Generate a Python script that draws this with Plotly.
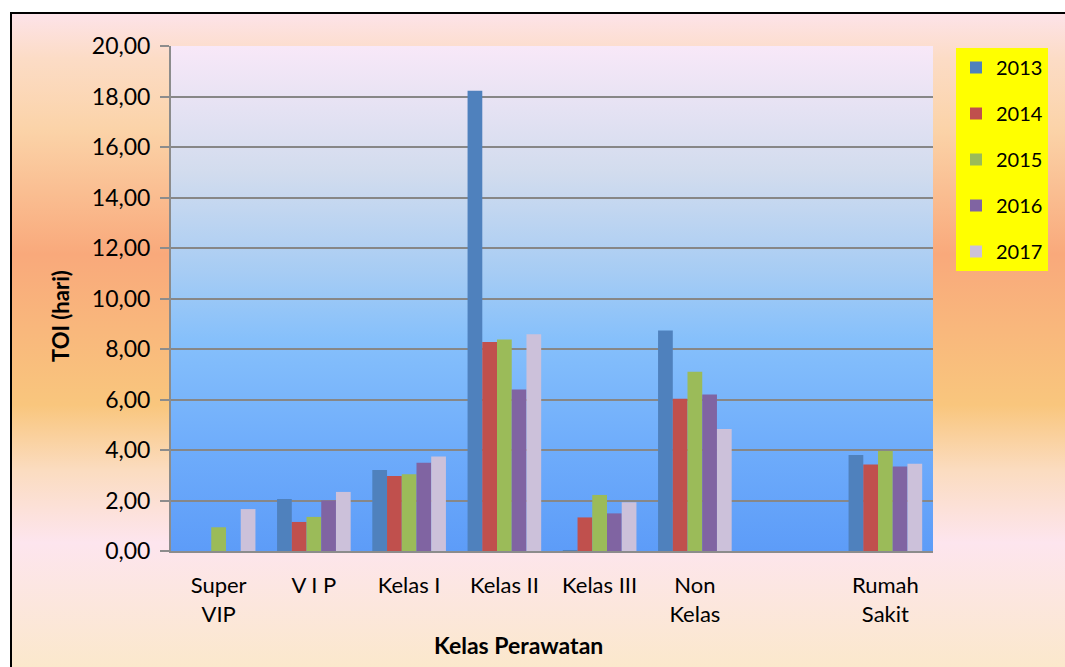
import base64
import plotly.graph_objects as go

# Length-of-stay turnover interval (TOI, days) by ward class, 2013-2017
categories = ["Super<br>VIP", "V I P", "Kelas I", "Kelas II", "Kelas III",
              "Non<br>Kelas", "", "Rumah<br>Sakit"]
years = ["2013", "2014", "2015", "2016", "2017"]
toi_2013 = [0.00, 2.06, 3.21, 18.23, 0.02, 8.73, None, 3.80]
toi_2014 = [0.00, 1.15, 2.97, 8.28, 1.33, 6.03, None, 3.43]
toi_2015 = [0.94, 1.35, 3.04, 8.38, 2.22, 7.10, None, 3.96]
toi_2016 = [0.00, 2.00, 3.50, 6.40, 1.49, 6.20, None, 3.35]
toi_2017 = [1.66, 2.34, 3.74, 8.58, 1.93, 4.83, None, 3.46]
series = [toi_2013, toi_2014, toi_2015, toi_2016, toi_2017]
colors = ["#4f81bd", "#c0504d", "#9bbb59", "#8064a2", "#ccc1da"]

y_ticks = [0, 2, 4, 6, 8, 10, 12, 14, 16, 18, 20]

W, H = 1065, 667
ML, MR, MT, MB = 171, 132, 46, 116
PW, PH = W - ML - MR, H - MT - MB
FX, FY = 10, 12  # top-left corner of the chart frame


def px_x(px):
    return (px - ML) / PW


def px_y(py):
    return (H - MB - py) / PH


def gradient_uri(stops, w, h, frame=False):
    stop_xml = "".join(
        f"<stop offset='{o}' stop-color='{c}'/>" for o, c in stops)
    border = (f"<path d='M1,{h} V1 H{w}' fill='none' stroke='black' "
              "stroke-width='2'/>") if frame else ""
    svg = ("<svg xmlns='http://www.w3.org/2000/svg' "
           f"viewBox='0 0 {w} {h}' preserveAspectRatio='none' "
           f"width='{w}' height='{h}'>"
           "<defs><linearGradient id='g' x1='0' y1='0' x2='0' y2='1'>"
           f"{stop_xml}</linearGradient></defs>"
           f"<rect width='{w}' height='{h}' fill='url(#g)'/>{border}</svg>")
    return "data:image/svg+xml;base64," + base64.b64encode(svg.encode()).decode()


outer_bg = gradient_uri([
    (0.00, "#fde3ea"), (0.07, "#fcdcc6"), (0.18, "#fbd3a8"),
    (0.37, "#f9a97b"), (0.60, "#f9c67d"), (0.70, "#fbdcc0"),
    (0.81, "#fde5ee"), (1.00, "#fbe8cc"),
], W - FX, H - FY, frame=True)
plot_bg = gradient_uri([
    (0.00, "#f8e8f8"), (0.25, "#d2dcee"), (0.45, "#a6ccf4"),
    (0.58, "#86c0fb"), (0.80, "#6eacfb"), (1.00, "#5d9cf8"),
], PW, PH)

x_pos = list(range(len(categories)))

fig = go.Figure()
for year, vals, col in zip(years, series, colors):
    fig.add_trace(go.Bar(
        x=x_pos, y=vals, name=year, legendgroup=year,
        marker=dict(color=col, line=dict(width=0)),
    ))

font_family = "Lato, Calibri, Carlito, sans-serif"

fig.update_layout(
    width=W, height=H,
    margin=dict(l=ML, r=MR, t=MT, b=MB, autoexpand=False),
    paper_bgcolor="white",
    plot_bgcolor="rgba(0,0,0,0)",
    barmode="group", bargap=0.227, bargroupgap=0,
    separators=",.",
    font=dict(family=font_family, size=22, color="black"),
    showlegend=True,
    legend=dict(
        x=px_x(956), y=px_y(48), xanchor="left", yanchor="top",
        bgcolor="#ffff00", borderwidth=0,
        font=dict(size=20, color="black"),
        tracegroupgap=17, traceorder="grouped",
        itemwidth=30,
    ),
    xaxis=dict(
        range=[-0.5, len(categories) - 0.5],
        tickmode="array", tickvals=x_pos, ticktext=categories,
        showgrid=False, zeroline=False,
        showline=True, linecolor="#8c8c8c", linewidth=2,
        ticks="", ticklabelstandoff=14,
        tickfont=dict(size=22),
    ),
    yaxis=dict(
        range=[0, 20], tickmode="array", tickvals=y_ticks,
        tickformat=".2f",
        showgrid=True, gridcolor="#878787", gridwidth=2,
        zeroline=False,
        showline=True, linecolor="#8c8c8c", linewidth=2,
        ticks="outside", ticklen=9, tickwidth=2, tickcolor="#8c8c8c",
        ticklabelstandoff=5,
        tickfont=dict(size=23),
    ),
    images=[
        dict(source=outer_bg, xref="paper", yref="paper",
             x=px_x(FX), y=px_y(FY), sizex=(W - FX) / PW,
             sizey=(H - FY) / PH, xanchor="left", yanchor="top",
             sizing="stretch", layer="below"),
        dict(source=plot_bg, xref="paper", yref="paper",
             x=0, y=1, sizex=1, sizey=1, xanchor="left", yanchor="top",
             sizing="stretch", layer="below"),
    ],
    annotations=[
        dict(text="<b>Kelas Perawatan</b>", xref="paper", yref="paper",
             x=px_x(518), y=px_y(645), xanchor="center", yanchor="middle",
             showarrow=False, font=dict(size=23)),
        dict(text="<b>TOI (hari)</b>", xref="paper", yref="paper",
             x=px_x(60), y=px_y(316), xanchor="center", yanchor="middle",
             textangle=-90, showarrow=False, font=dict(size=22)),
    ],
)

fig.write_html("out.html")
